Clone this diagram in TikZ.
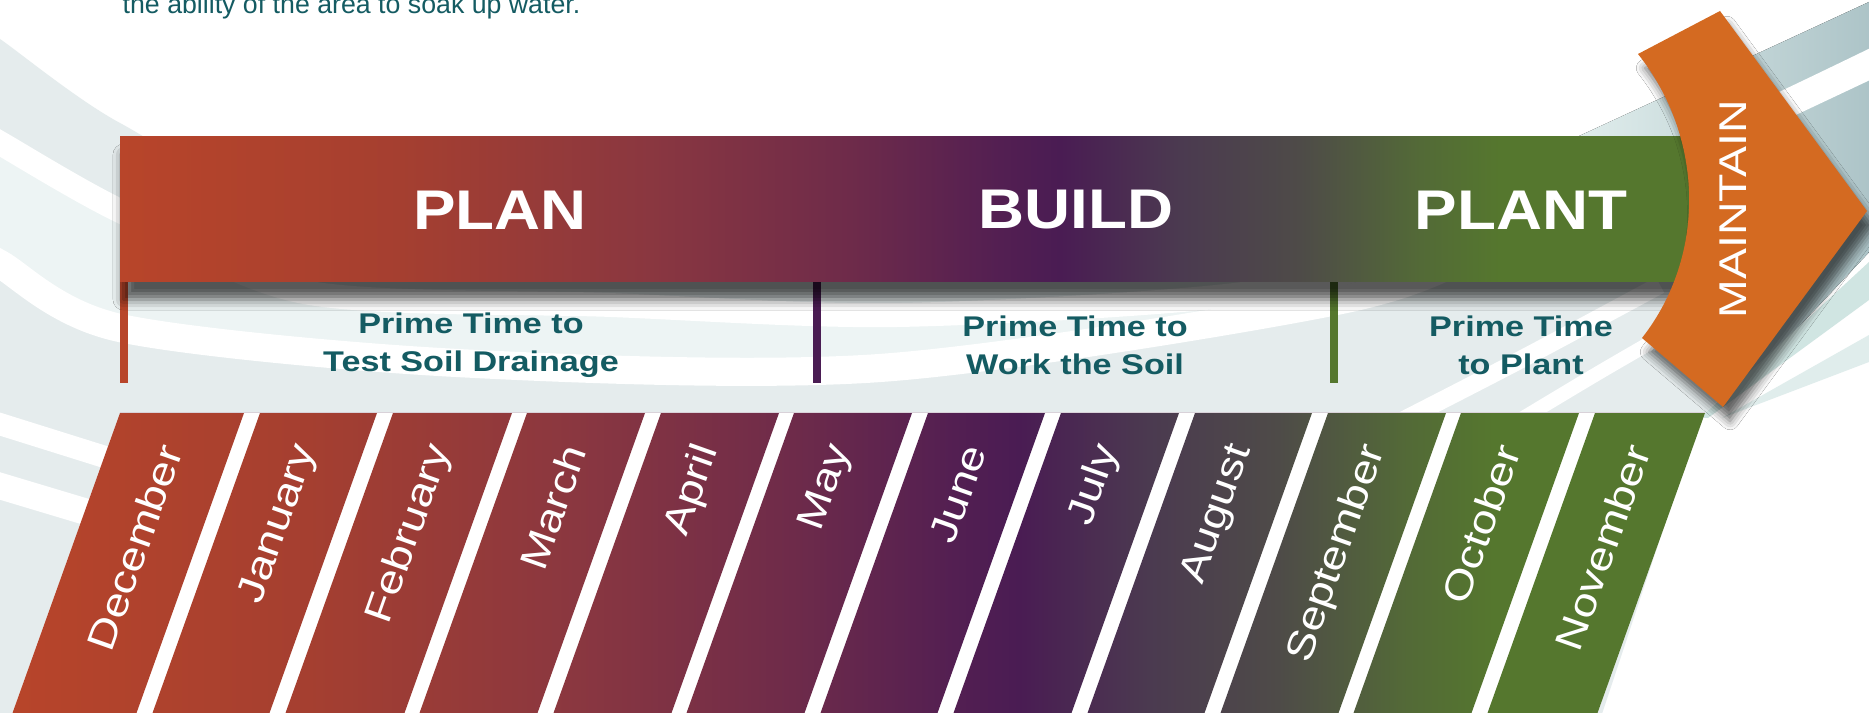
\documentclass[tikz,border=0pt]{standalone}
\usepackage{fontspec}
\setmainfont{Liberation Sans}
\newfontfamily\widefont[FakeStretch=1.2]{Liberation Sans}
\newfontfamily\bannerfont[FakeStretch=1.14]{Liberation Sans}
\usetikzlibrary{positioning,shadows.blur}

\definecolor{planred}{HTML}{B8452A}
\definecolor{shadeA}{HTML}{A53F30}
\definecolor{shadeB}{HTML}{8A3740}
\definecolor{shadeC}{HTML}{6E2B4A}
\definecolor{shadeD}{HTML}{531F52}
\definecolor{buildpurple}{HTML}{4A1C53}
\definecolor{shadeE}{HTML}{4B3A50}
\definecolor{shadeF}{HTML}{4E4B48}
\definecolor{shadeG}{HTML}{536A37}
\definecolor{plantgreen}{HTML}{55772E}
\definecolor{maintainorange}{HTML}{D46A21}
\definecolor{primeteal}{HTML}{145B62}
\definecolor{bggray}{HTML}{E5ECED}
\definecolor{bglight}{HTML}{EDF4F4}
\definecolor{tealpale}{HTML}{E0EDEC}
\definecolor{tealmid}{HTML}{D0E5E2}
\definecolor{tealdeep}{HTML}{A9C1C5}
\definecolor{stripline}{HTML}{D9D2D9}

% colour run of the seasons, banner box 120..1700 -> 25bp..75bp
\pgfdeclarehorizontalshading{seasons}{100bp}{color(0bp)=(planred); color(25bp)=(planred);
  color(33.86bp)=(shadeA); color(41.77bp)=(shadeB); color(48.1bp)=(shadeC);
  color(52.85bp)=(shadeD); color(54.75bp)=(buildpurple); color(58.54bp)=(shadeE);
  color(62.34bp)=(shadeF); color(66.14bp)=(shadeG); color(68.67bp)=(plantgreen);
  color(100bp)=(plantgreen)}

\tikzset{
  banner label/.style={font=\bannerfont\bfseries\fontsize{15.9}{18}\selectfont, text=white, inner sep=0pt},
  maintain label/.style={font=\widefont\fontsize{11}{13}\selectfont, text=white, inner sep=0pt, rotate=90},
  month label/.style={font=\widefont\fontsize{11}{13}\selectfont, text=white, inner sep=0pt, rotate=70.5, anchor=east},
  prime label/.style={font=\widefont\bfseries\fontsize{8.1}{10.8}\selectfont, text=primeteal, align=center, inner sep=0pt},
  stripe/.style={white, line width=6.8pt},
  divider/.style={line width=2.3pt},
}

\def\monthlist{December/120/244, January/260/377, February/393/512, March/527/645,
  April/661/779, May/794/912, June/928/1045, July/1061/1179, August/1195/1312,
  September/1328/1446, October/1461/1579, November/1595/1705}

\begin{document}
\begin{tikzpicture}[x=0.01cm, y=-0.01cm]
	\useasboundingbox (0,0) rectangle (1869,713);
	\fill[white] (0,0) rectangle (1869,713);

	% background sweeps
	\fill[bggray] plot[smooth] coordinates {(-20,27) (0,39) (120,123) (300,200) (800,255) (1300,222) (1577,137) (1869,2) (1890,-8)}
		-- (1890,230) -- (1700,418) -- (1600,720) -- (-20,720) -- cycle;
	\fill[bglight] plot[smooth] coordinates {(-20,131) (0,143) (120,211) (304,292) (610,305) (900,315) (1250,293) (1450,240) (1650,165)}
		-- plot[smooth] coordinates {(1640,160) (1500,240) (1341,300) (880,368) (457,363) (120,328) (0,264) (-20,252)} -- cycle;
	\fill[left color=tealpale, middle color=tealmid, right color=tealdeep] (1577,137) -- (1869,2) -- (1890,0) -- (1890,230) -- (1723,407) -- (1680,300) -- (1680,200) -- cycle;
	\fill[tealmid] (1869,262) -- (1869,300) -- (1708,418) -- (1700,418) -- cycle;
	\fill[tealpale] (1869,335) -- (1869,362) -- (1722,418) -- cycle;
	\draw[stripe] plot[smooth] coordinates {(-20,131) (0,143) (120,211) (304,292) (610,305) (900,315) (1250,293) (1450,240) (1650,165) (1790,100) (1900,47)};
	\draw[stripe, line width=8pt] plot[smooth] coordinates {(-20,252) (0,264) (120,328) (457,363) (880,368) (1341,300) (1500,240) (1640,160)};
	\draw[stripe, line width=6.3pt] (-10,421) -- (140,468);
	\draw[stripe, line width=7.5pt] (-10,483) -- (140,528);
	\draw[stripe, line width=5pt] plot[smooth] coordinates {(1380,432) (1520,360) (1660,285)};
	\draw[stripe, line width=4pt] plot[smooth] coordinates {(1500,432) (1600,372) (1690,320)};
	\draw[stripe, line width=2pt] (1760,128) -- (1900,62);

	% text cut by the top edge
	\node[anchor=base west, inner sep=0pt, font=\fontsize{7.6}{9}\selectfont, text=primeteal] (intro) at (122,13.5) {the ability of the area to soak up water.};

	% months
	\fill[white] (120,413) -- (1705,413) -- (1595,720) -- (10,720) -- cycle;
	\begin{scope}
		\clip \foreach \mon/\lft/\rgt in \monthlist {(\lft,413) -- (\rgt,413) -- ({\rgt-110},720) -- ({\lft-110},720) -- cycle};
		\shade[shading=seasons] (5,413) rectangle (1710,720);
	\end{scope}
	\draw[stripline, line width=0.5pt] (120,412.5) -- (1705,412.5);
	\foreach \mon/\lft/\rgt in \monthlist
		\node[month label] (m-\mon) at ({(\lft+\rgt)/2-11.4},446) {\mon};

	% dividers under the banner
	\draw[divider, planred] (124,282) -- (124,383);
	\draw[divider, buildpurple] (817,282) -- (817,383);
	\draw[divider, plantgreen] (1334,282) -- (1334,383);

	% banner
	\shade[shading=seasons, blur shadow={shadow xshift=1pt, shadow yshift=-5pt, shadow blur radius=3pt, shadow opacity=65}] (120,137) rectangle (1700,282);
	\node[banner label] (plan) at (500,210) {PLAN};
	\node[banner label] (build) at (1076,210) {BUILD};
	\node[banner label] (plant) at (1521,210) {PLANT};

	% maintain chevron
	\fill[maintainorange, blur shadow={shadow xshift=2pt, shadow yshift=-4pt, shadow blur radius=2.5pt, shadow opacity=60}]
		(1638,54) -- (1720,11) -- (1867,211) -- (1723,407) -- (1642,338) .. controls (1707,255) and (1704,137) .. (1638,54) -- cycle;
	\node[maintain label] (maintain) at (1733,209) {MAINTAIN};

	\node[prime label] (drainage) at (471,345) {Prime Time to\\Test Soil Drainage};
	\node[prime label] (worksoil) at (1075,345) {Prime Time to\\Work the Soil};
	\node[prime label] (toplant) at (1521,345) {Prime Time\\to Plant};
\end{tikzpicture}
\end{document}
